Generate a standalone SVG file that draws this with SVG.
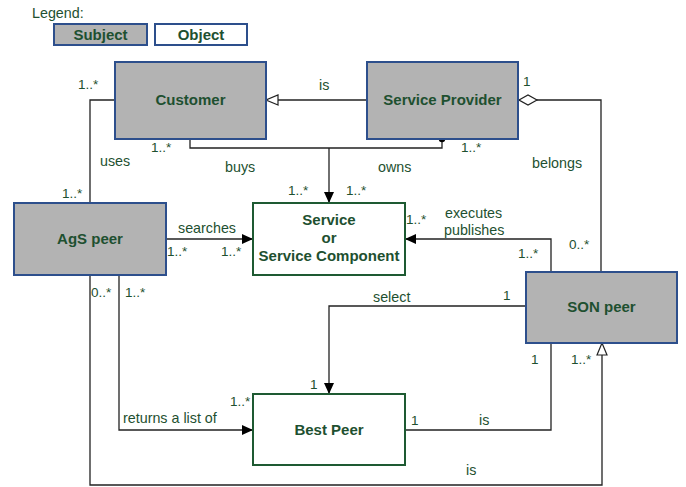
<svg xmlns="http://www.w3.org/2000/svg" width="686" height="487" viewBox="0 0 686 487">
<style>
.subj{fill:#b3b3b3;stroke:#2d4f8c;stroke-width:2}
.obj{fill:#fff;stroke:#1e5a32;stroke-width:2}
.nt{font-family:"Liberation Sans",Arial,sans-serif;font-weight:bold;font-size:15px;fill:#1e5030;text-anchor:middle}
.lb{font-family:"Liberation Sans",Arial,sans-serif;font-size:14.3px;fill:#1e5030}
.m{font-family:"Liberation Sans",Arial,sans-serif;font-size:13.5px;fill:#1e5030}
.ln{fill:none;stroke:#222;stroke-width:1.3}
</style>
<defs>
<marker id="arr" markerWidth="12" markerHeight="10" refX="11" refY="5" orient="auto" markerUnits="userSpaceOnUse"><path d="M0,0 L11,5 L0,10 Z" fill="#000"/></marker>
<marker id="tri" markerWidth="14" markerHeight="12" refX="13" refY="6" orient="auto" markerUnits="userSpaceOnUse"><path d="M1,1 L13,6 L1,11 Z" fill="#fff" stroke="#222" stroke-width="1.2"/></marker>
<marker id="dia" markerWidth="22" markerHeight="12" refX="1" refY="6" orient="auto" markerUnits="userSpaceOnUse"><path d="M1,6 L10,1 L19,6 L10,11 Z" fill="#fff" stroke="#222" stroke-width="1.2"/></marker>
<marker id="dot" markerWidth="8" markerHeight="8" refX="4" refY="4" orient="auto" markerUnits="userSpaceOnUse"><circle cx="4" cy="4" r="3.2" fill="#000"/></marker>
</defs>

<g id="legend">
<text class="lb" x="32" y="18">Legend:</text>
<rect class="subj" x="54" y="24" width="93" height="21"/>
<text class="nt" x="100.5" y="40">Subject</text>
<rect class="obj" x="155" y="24" width="92" height="21" style="stroke:#2d4f8c"/>
<text class="nt" x="201" y="40">Object</text>
</g>

<g id="connectors">
<path class="ln" d="M367,100 L266,100" marker-end="url(#tri)"/>
<text class="lb" x="319" y="90">is</text>
<path class="ln" d="M115,100 L90,100 L90,203"/>
<text class="m" x="78" y="89">1..*</text>
<text class="lb" x="100" y="166">uses</text>
<text class="m" x="62" y="198">1..*</text>
<path class="ln" d="M190,139 L190,148 L442,148 L442,139" marker-end="url(#dot)"/>
<path class="ln" d="M329,148 L329,203" marker-end="url(#arr)"/>
<text class="m" x="151" y="152">1..*</text>
<text class="m" x="461" y="152">1..*</text>
<text class="lb" x="225" y="172">buys</text>
<text class="lb" x="378" y="172">owns</text>
<text class="m" x="288" y="195">1..*</text>
<text class="m" x="346" y="195">1..*</text>
<path class="ln" d="M519,100 L601,100 L601,272" marker-start="url(#dia)"/>
<text class="m" x="523" y="86">1</text>
<text class="lb" x="532" y="168">belongs</text>
<text class="m" x="569" y="249">0..*</text>
<path class="ln" d="M166,239 L253,239" marker-end="url(#arr)"/>
<text class="lb" x="178" y="233">searches</text>
<text class="m" x="167" y="256">1..*</text>
<text class="m" x="221" y="256">1..*</text>
<path class="ln" d="M551,272 L551,239 L405,239" marker-end="url(#arr)"/>
<text class="lb" x="445" y="218">executes</text>
<text class="lb" x="444" y="235">publishes</text>
<text class="m" x="406" y="224">1..*</text>
<text class="m" x="518" y="258">1..*</text>
<path class="ln" d="M526,306 L329,306 L329,394" marker-end="url(#arr)"/>
<text class="lb" x="373" y="302">select</text>
<text class="m" x="503" y="300">1</text>
<text class="m" x="310" y="389">1</text>
<path class="ln" d="M119,275 L119,430 L253,430" marker-end="url(#arr)"/>
<text class="lb" x="123" y="423">returns a list of</text>
<text class="m" x="230" y="406">1..*</text>
<text class="m" x="91" y="297">0..*</text>
<text class="m" x="125" y="297">1..*</text>
<path class="ln" d="M90,275 L90,485 L602,485 L602,343" marker-end="url(#tri)"/>
<text class="lb" x="466" y="475">is</text>
<path class="ln" d="M551,343 L551,430 L405,430"/>
<text class="m" x="411" y="425">1</text>
<text class="lb" x="479" y="425">is</text>
<text class="m" x="531" y="364">1</text>
<text class="m" x="571" y="364">1..*</text>
</g>

<g id="customer">
<rect class="subj" x="115" y="62" width="151" height="77"/>
<text class="nt" x="190.5" y="105">Customer</text>
</g>
<g id="service-provider">
<rect class="subj" x="367" y="62" width="151" height="77"/>
<text class="nt" x="442.5" y="105">Service Provider</text>
</g>
<g id="ags-peer">
<rect class="subj" x="14" y="203" width="152" height="72"/>
<text class="nt" x="90" y="244">AgS peer</text>
</g>
<g id="service">
<rect class="obj" x="253" y="203" width="152" height="72"/>
<text class="nt" x="329" y="225">Service</text>
<text class="nt" x="329" y="243">or</text>
<text class="nt" x="329" y="261">Service Component</text>
</g>
<g id="son-peer">
<rect class="subj" x="526" y="272" width="151" height="71"/>
<text class="nt" x="601.5" y="312">SON peer</text>
</g>
<g id="best-peer">
<rect class="obj" x="253" y="394" width="152" height="71"/>
<text class="nt" x="329" y="435">Best Peer</text>
</g>
</svg>
